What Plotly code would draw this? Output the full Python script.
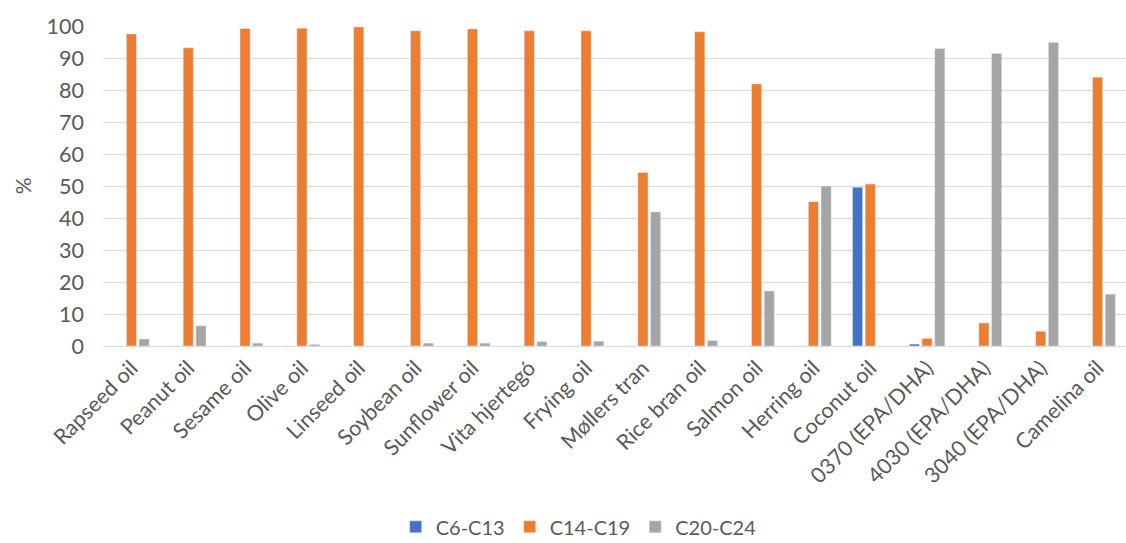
import plotly.graph_objects as go

categories = ["Rapseed oil", "Peanut oil", "Sesame oil", "Olive oil", "Linseed oil",
              "Soybean oil", "Sunflower oil", "Vita hjertegó", "Frying oil", "Møllers tran",
              "Rice bran oil", "Salmon oil", "Herring oil", "Coconut oil", "0370 (EPA/DHA)",
              "4030 (EPA/DHA)", "3040 (EPA/DHA)", "Camelina oil"]
c6_c13 = [0, 0, 0, 0, 0, 0, 0, 0, 0, 0, 0, 0, 0, 49.6, 0.6, 0, 0, 0]
c14_c19 = [97.5, 93.2, 99.2, 99.3, 99.7, 98.5, 99.1, 98.5, 98.5, 54.2,
           98.2, 81.9, 45.1, 50.6, 2.4, 7.2, 4.6, 84.0]
c20_c24 = [2.2, 6.3, 0.9, 0.5, 0.0, 0.9, 0.9, 1.4, 1.5, 41.9,
           1.7, 17.2, 50.0, 0.0, 93.0, 91.4, 94.9, 16.2]
y_ticks = [0, 10, 20, 30, 40, 50, 60, 70, 80, 90, 100]

fig = go.Figure()
fig.add_trace(go.Bar(name="C6-C13", x=categories, y=c6_c13, marker_color="#4472C4"))
fig.add_trace(go.Bar(name="C14-C19", x=categories, y=c14_c19, marker_color="#ED7D31"))
fig.add_trace(go.Bar(name="C20-C24", x=categories, y=c20_c24, marker_color="#A5A5A5"))

fig.update_layout(
    width=1126, height=543,
    margin=dict(l=103, r=0, t=26, b=197, autoexpand=False),
    paper_bgcolor="white", plot_bgcolor="white",
    barmode="group", bargap=0.33, bargroupgap=0.2,
    font=dict(family="Lato, Open Sans, sans-serif", color="#595959", size=20),
    legend=dict(orientation="h", x=0.465, xanchor="center", y=-0.565, yanchor="middle",
                font=dict(size=20), itemwidth=30, traceorder="normal"),
    showlegend=True,
    annotations=[dict(text="%", xref="paper", yref="paper", x=-0.079, y=0.5,
                      xanchor="center", yanchor="middle", textangle=-90, showarrow=False,
                      font=dict(size=21, color="#595959"))],
)
fig.update_xaxes(tickangle=-45, tickfont=dict(size=21.5), showline=True,
                 linecolor="#D9D9D9", linewidth=1, ticks="", automargin=False)
fig.update_yaxes(range=[0, 100], tickvals=y_ticks, showgrid=True, gridcolor="#D9D9D9",
                 gridwidth=1, zeroline=False, tickfont=dict(size=21.5), automargin=False,
                 ticklabelstandoff=18)

fig.write_html("out.html")
